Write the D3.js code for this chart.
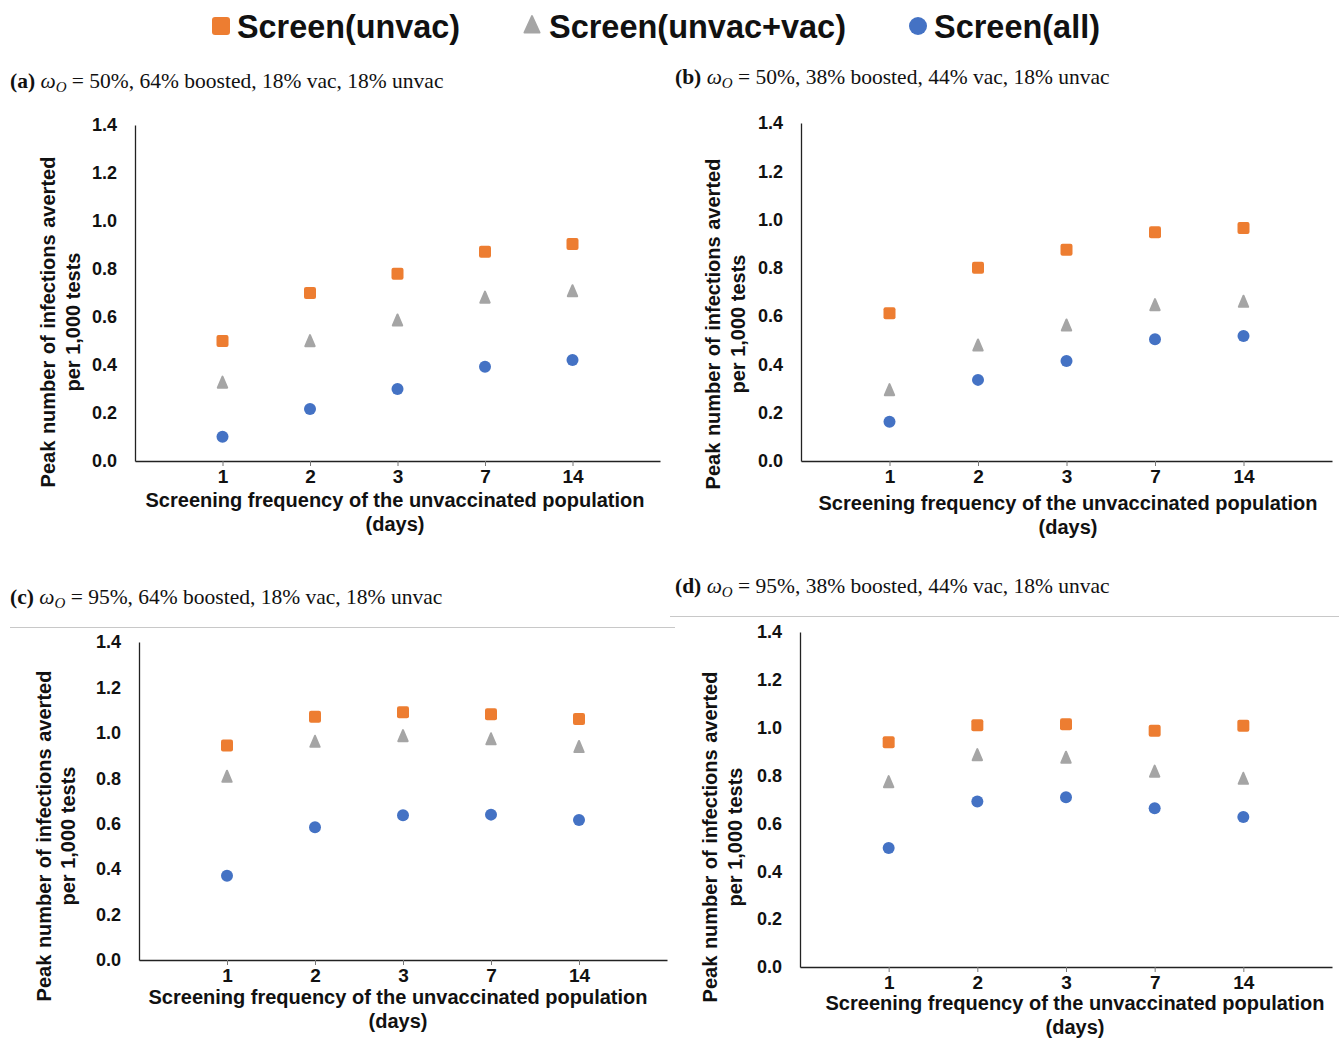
<!DOCTYPE html>
<html>
<head>
<meta charset="utf-8">
<script src="https://cdn.jsdelivr.net/npm/d3@7"></script>
<style>
  html, body { margin: 0; padding: 0; background: #fff; }
  svg { display: block; }
</style>
</head>
<body>
<svg id="chart" width="1339" height="1040"></svg>
<script>
// ---------- DATA ----------
const categories = ["1", "2", "3", "7", "14"];
const seriesNames = ["Screen(unvac)", "Screen(unvac+vac)", "Screen(all)"];
const yTicks = [0, 0.2, 0.4, 0.6, 0.8, 1.0, 1.2, 1.4];

const panelLabels = ["(a)", "(b)", "(c)", "(d)"];
const panelOmega = ["50%", "50%", "95%", "95%"];
const panelMix = [
  "64% boosted, 18% vac, 18% unvac",
  "38% boosted, 44% vac, 18% unvac",
  "64% boosted, 18% vac, 18% unvac",
  "38% boosted, 44% vac, 18% unvac"
];

// panel (a)
const unvacA    = [0.50, 0.70, 0.78, 0.872, 0.904];
const unvacVacA = [0.324, 0.497, 0.583, 0.678, 0.705];
const allA      = [0.101, 0.217, 0.30, 0.393, 0.421];
// panel (b)
const unvacB    = [0.612, 0.80, 0.875, 0.947, 0.965];
const unvacVacB = [0.291, 0.476, 0.559, 0.643, 0.657];
const allB      = [0.163, 0.336, 0.414, 0.504, 0.518];
// panel (c)
const unvacC    = [0.944, 1.071, 1.091, 1.082, 1.061];
const unvacVacC = [0.804, 0.958, 0.983, 0.969, 0.935];
const allC      = [0.371, 0.584, 0.637, 0.640, 0.616];
// panel (d)
const unvacD    = [0.939, 1.010, 1.014, 0.987, 1.008];
const unvacVacD = [0.770, 0.883, 0.872, 0.814, 0.784];
const allD      = [0.497, 0.692, 0.709, 0.663, 0.627];

const panelSeries = [
  [unvacA, unvacVacA, allA],
  [unvacB, unvacVacB, allB],
  [unvacC, unvacVacC, allC],
  [unvacD, unvacVacD, allD]
];

// ---------- STYLE / LAYOUT ----------
const colors = ["#ED7D31", "#A5A5A5", "#4472C4"];
const shapes = ["square", "triangle", "circle"];
const sans = "'Liberation Sans', Arial, Helvetica, sans-serif";
const serif = "'Liberation Serif', 'Times New Roman', Times, serif";

const layout = [
  { x0: 135, x1: 660, y0: 461, y1: 125, tx: 10, ty: 88, yl1: 55, yl2: 80, ylc: 322, xtc: 395, xtb: 507 },
  { x0: 801, x1: 1332, y0: 461, y1: 123, tx: 675, ty: 84, yl1: 720, yl2: 745, ylc: 324, xtc: 1068, xtb: 510 },
  { x0: 139, x1: 667, y0: 960, y1: 642, tx: 10, ty: 604, yl1: 51, yl2: 75, ylc: 836, xtc: 398, xtb: 1004 },
  { x0: 800, x1: 1332, y0: 967, y1: 632, tx: 675, ty: 593, yl1: 717, yl2: 742, ylc: 837, xtc: 1075, xtb: 1010 }
];

const svg = d3.select("#chart");
svg.append("rect").attr("width", 1339).attr("height", 1040).attr("fill", "#fff");

function drawMarker(g, shape, cx, cy, size, color) {
  if (shape === "square") {
    g.append("rect")
      .attr("x", cx - size / 2).attr("y", cy - size / 2)
      .attr("width", size).attr("height", size)
      .attr("rx", size * 0.17).attr("fill", color);
  } else if (shape === "triangle") {
    const h = size * 0.92, w = size * 0.95;
    const p = d3.path();
    p.moveTo(cx, cy - h * 0.6);
    p.lineTo(cx + w / 2 - 1, cy + h * 0.4);
    p.lineTo(cx - w / 2 + 1, cy + h * 0.4);
    p.closePath();
    g.append("path").attr("d", p.toString())
      .attr("fill", color).attr("stroke", color)
      .attr("stroke-width", 2).attr("stroke-linejoin", "round");
  } else {
    g.append("circle").attr("cx", cx).attr("cy", cy)
      .attr("r", size / 2).attr("fill", color);
  }
}

// ---------- LEGEND ----------
const legendItems = [
  { mx: 221, tx: 237, w: 223 },
  { mx: 532, tx: 549, w: 297 },
  { mx: 918, tx: 934, w: 166 }
];
const legend = svg.append("g");
seriesNames.forEach((name, i) => {
  const it = legendItems[i];
  drawMarker(legend, shapes[i], it.mx, 26, 18, colors[i]);
  legend.append("text")
    .attr("x", it.tx).attr("y", 38)
    .attr("font-family", sans).attr("font-weight", "bold")
    .attr("font-size", 33)
    .attr("textLength", it.w).attr("lengthAdjust", "spacingAndGlyphs")
    .attr("fill", "#111")
    .text(name);
});

// ---------- SEPARATOR LINES ----------
svg.append("line").attr("x1", 10).attr("x2", 675).attr("y1", 627.5).attr("y2", 627.5)
  .attr("stroke", "#c8c8c8").attr("stroke-width", 1);
svg.append("line").attr("x1", 670).attr("x2", 1339).attr("y1", 616.5).attr("y2", 616.5)
  .attr("stroke", "#c8c8c8").attr("stroke-width", 1);

// ---------- PANELS ----------
layout.forEach((L, pi) => {
  const g = svg.append("g");

  // title
  const t = g.append("text")
    .attr("x", L.tx).attr("y", L.ty)
    .attr("font-family", serif).attr("font-size", 21.5).attr("fill", "#111");
  t.append("tspan").attr("font-weight", "bold").text(panelLabels[pi]);
  t.append("tspan").text(" ");
  t.append("tspan").attr("font-style", "italic").text("ω");
  t.append("tspan").attr("font-style", "italic").attr("font-size", 15).attr("dy", 4).text("O");
  t.append("tspan").attr("dy", -4).text(" = " + panelOmega[pi] + ", " + panelMix[pi]);

  const x = d3.scalePoint().domain(categories).range([L.x0, L.x1]).padding(1);
  const y = d3.scaleLinear().domain([0, 1.4]).range([L.y0, L.y1]);

  // y axis
  const ya = g.append("g").attr("transform", `translate(${L.x0},0)`)
    .call(d3.axisLeft(y).tickValues(yTicks).tickFormat(d3.format(".1f"))
      .tickSize(0).tickSizeOuter(0).tickPadding(18));
  ya.select(".domain").attr("stroke", "#222").attr("stroke-width", 1.3);
  ya.selectAll("text").attr("font-family", sans).attr("font-weight", "bold")
    .attr("font-size", 18).attr("fill", "#111");

  // x axis
  const xa = g.append("g").attr("transform", `translate(0,${L.y0})`)
    .call(d3.axisBottom(x).tickSize(5).tickSizeOuter(0).tickPadding(4));
  xa.select(".domain").attr("stroke", "#222").attr("stroke-width", 1.3);
  xa.selectAll(".tick line").attr("stroke", "#777");
  xa.selectAll("text").attr("font-family", sans).attr("font-weight", "bold")
    .attr("font-size", 19).attr("fill", "#111");

  // y axis title
  const yt = g.append("g");
  yt.append("text")
    .attr("transform", `translate(${L.yl1},${L.ylc}) rotate(-90)`)
    .attr("text-anchor", "middle")
    .attr("font-family", sans).attr("font-weight", "bold").attr("font-size", 20)
    .attr("fill", "#111").attr("word-spacing", 1)
    .text("Peak number of infections averted");
  yt.append("text")
    .attr("transform", `translate(${L.yl2},${L.ylc}) rotate(-90)`)
    .attr("text-anchor", "middle")
    .attr("font-family", sans).attr("font-weight", "bold").attr("font-size", 20)
    .attr("fill", "#111")
    .text("per 1,000 tests");

  // x axis title
  g.append("text")
    .attr("x", L.xtc).attr("y", L.xtb)
    .attr("text-anchor", "middle")
    .attr("font-family", sans).attr("font-weight", "bold").attr("font-size", 20)
    .attr("fill", "#111")
    .text("Screening frequency of the unvaccinated population");
  g.append("text")
    .attr("x", L.xtc).attr("y", L.xtb + 24)
    .attr("text-anchor", "middle")
    .attr("font-family", sans).attr("font-weight", "bold").attr("font-size", 20)
    .attr("fill", "#111")
    .text("(days)");

  // markers
  const marks = g.append("g");
  panelSeries[pi].forEach((vals, si) => {
    vals.forEach((v, ci) => {
      drawMarker(marks, shapes[si], x(categories[ci]), y(v), 12, colors[si]);
    });
  });
});
</script>
</body>
</html>
